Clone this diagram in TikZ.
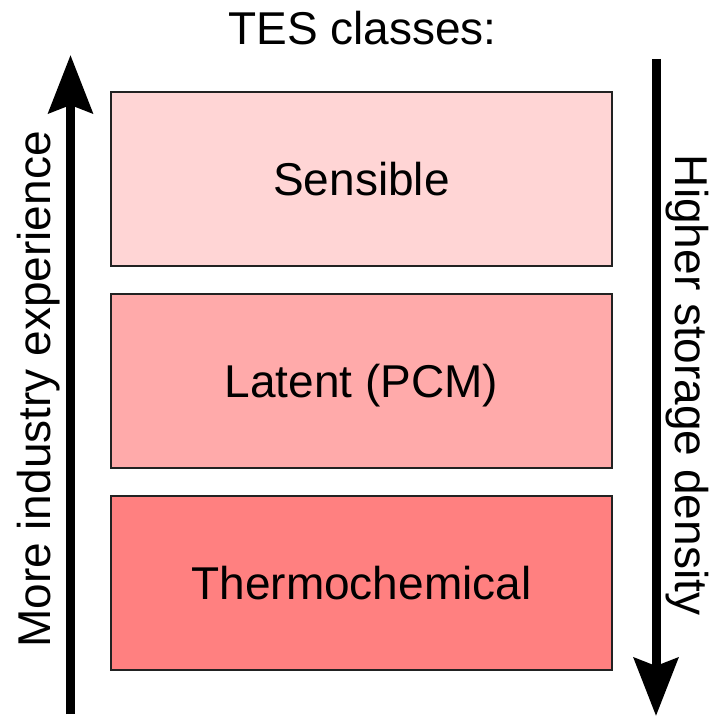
\documentclass[tikz,border=0pt]{standalone}
\usepackage{fontspec}
\setmainfont{Liberation Sans}
\usetikzlibrary{arrows.meta}
\definecolor{cA}{HTML}{FFD5D5}
\definecolor{cB}{HTML}{FFAAAA}
\definecolor{cC}{HTML}{FF8080}
\definecolor{edge}{HTML}{222222}
\begin{document}
\begin{tikzpicture}[x=1pt,y=-1pt,
  classbox/.style={draw=edge,line width=2.5pt,minimum width=501pt,minimum height=174pt,inner sep=0pt},
  lbl/.style={font=\fontsize{46}{54}\selectfont,inner sep=0pt,anchor=base},
  bigarrow/.style={line width=9pt,-{Stealth[length=58pt,width=44pt,inset=8pt]}}]
\useasboundingbox (0,0) rectangle (711,717);
\node[classbox,fill=cA] (b1) at (361.5,179) {};
\node[classbox,fill=cB] (b2) at (361.5,381) {};
\node[classbox,fill=cC] (b3) at (361.5,583) {};
\node[lbl] (t1) at (361.5,195.5) {Sensible};
\node[lbl] (t2) at (361.5,397.5) {Latent (PCM)};
\node[lbl] (t3) at (361.5,599.5) {Thermochemical};
\node[lbl] (title) at (362.5,45) {TES classes:};
\node[lbl,rotate=90] (left) at (50,389.5) {More industry experience};
\node[lbl,rotate=-90] (right) at (675,385) {Higher storage density};
\coordinate (la) at (70.5,714);
\coordinate (lb) at (70.5,55);
\coordinate (ra) at (656,59);
\coordinate (rb) at (656,716);
\draw[bigarrow] (la) -- (lb);
\draw[bigarrow] (ra) -- (rb);
\end{tikzpicture}
\end{document}
